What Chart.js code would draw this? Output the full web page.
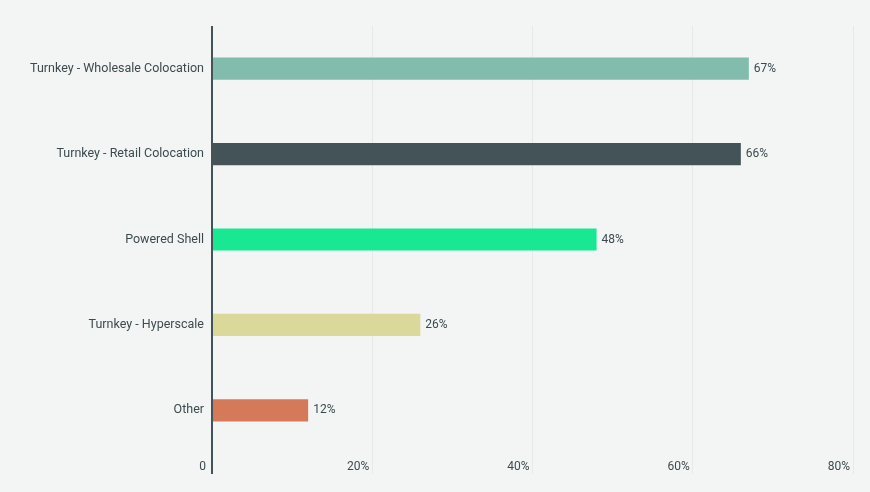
<!DOCTYPE html>
<html>
<head>
<meta charset="utf-8">
<script src="https://cdn.jsdelivr.net/npm/chart.js@4"></script>
<style>
  html, body { margin: 0; padding: 0; background: #f3f5f4; }
  #wrap { width: 870px; height: 492px; }
</style>
</head>
<body>
<div id="wrap"><canvas id="chart"></canvas></div>
<script>
// categories and values
const categories = [
    'Turnkey - Wholesale Colocation',
    'Turnkey - Retail Colocation',
    'Powered Shell',
    'Turnkey - Hyperscale',
    'Other'
];
const shares = [67, 66, 48, 26, 12];
const barColors = ['#82bcad', '#435358', '#19e893', '#dbd89c', '#d4795a'];
const xMax = 80;
const xStep = 20;

const textColor = '#3c4a4e';
const fontFamily = 'Roboto, "Noto Sans", sans-serif';

// draws the value label just right of each bar
const valueLabels = {
    id: 'valueLabels',
    afterDatasetsDraw(chart) {
        const ctx = chart.ctx;
        const meta = chart.getDatasetMeta(0);
        ctx.save();
        ctx.font = '12px ' + fontFamily;
        ctx.fillStyle = textColor;
        ctx.textAlign = 'left';
        ctx.textBaseline = 'middle';
        meta.data.forEach((bar, i) => {
            ctx.fillText(shares[i] + '%', bar.x + 5, bar.y);
        });
        ctx.restore();
    }
};

new Chart(document.getElementById('chart'), {
    type: 'bar',
    data: {
        labels: categories,
        datasets: [{
            data: shares,
            backgroundColor: barColors,
            borderWidth: 0,
            barPercentage: 0.52,
            categoryPercentage: 0.5
        }]
    },
    options: {
        indexAxis: 'y',
        responsive: true,
        maintainAspectRatio: false,
        animation: false,
        layout: { padding: { top: 26, right: 17, bottom: 0, left: 0 } },
        plugins: {
            legend: { display: false },
            tooltip: { enabled: false }
        },
        scales: {
            x: {
                min: 0,
                max: xMax,
                // fixed height so the labels (pulled up beside the tick marks) are not clipped
                afterFit: scale => { scale.height = 39; },
                border: { display: false },
                grid: {
                    color: ctx => ctx.tick && ctx.tick.value === 0 ? '#435358' : '#e6e9e8',
                    lineWidth: ctx => ctx.tick && ctx.tick.value === 0 ? 2 : 1,
                    drawTicks: true,
                    tickLength: 21
                },
                ticks: {
                    stepSize: xStep,
                    align: 'end',
                    padding: -14,
                    color: textColor,
                    font: { family: fontFamily, size: 12 },
                    callback: v => v === 0 ? '0  ' : v + '% '
                }
            },
            y: {
                afterFit: scale => { scale.width = 212; },
                border: { display: false },
                grid: { display: false, drawTicks: false },
                ticks: {
                    padding: 8,
                    color: textColor,
                    font: { family: fontFamily, size: 12.5 }
                }
            }
        }
    },
    plugins: [valueLabels]
});
</script>
</body>
</html>
